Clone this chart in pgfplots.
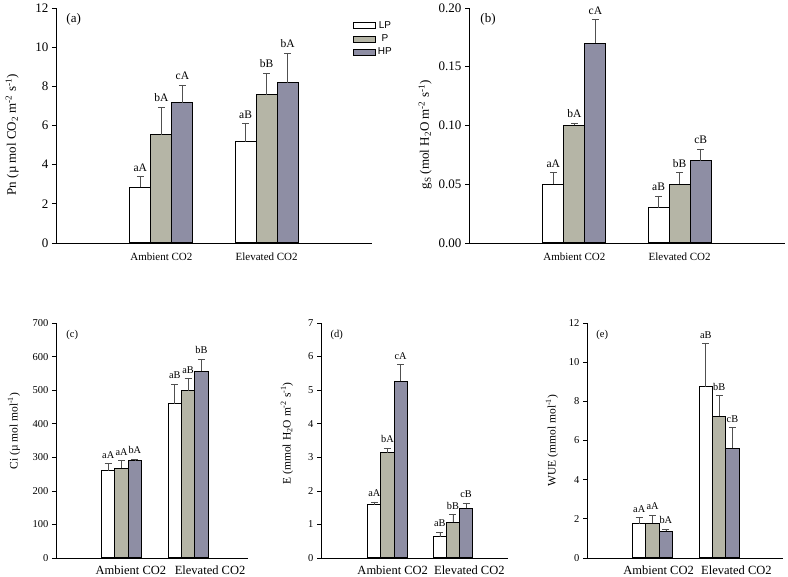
\documentclass[border=0pt]{standalone}
\usepackage{pgfplots}
\pgfplotsset{compat=1.18}
\usepackage{pgfplotstable}
\usepackage{fontspec}
\setmainfont{Liberation Serif}
\newfontfamily\arial{Liberation Sans}

\definecolor{pfill}{RGB}{181,181,166}
\definecolor{hpfill}{RGB}{142,142,164}
\definecolor{errcol}{RGB}{80,80,80}

% x: 0 = Ambient CO2, 1 = Elevated CO2 ; value, error (+), letters
\pgfplotstableread{
x lp   lpe  lpl p    pe   pl hp   hpe  hpl
0 2.84 0.56 aA  5.52 1.42 bA 7.16 0.91 cA
1 5.18 0.92 aB  7.56 1.11 bB 8.18 1.51 bA
}\dataA
\pgfplotstableread{
x lp    lpe   lpl p     pe    pl hp    hpe   hpl
0 0.050 0.010 aA  0.100 0.002 bA 0.170 0.020 cA
1 0.030 0.010 aB  0.050 0.010 bB 0.070 0.010 cB
}\dataB
\pgfplotstableread{
x lp  lpe lpl p   pe  pl hp  hpe hpl
0 260 21  aA  268 23  aA 290 4   bA
1 460 58  aB  498 36  aB 557 35  bB
}\dataC
\pgfplotstableread{
x lp   lpe  lpl p    pe   pl hp   hpe  hpl
0 1.58 0.09 aA  3.13 0.14 bA 5.26 0.50 cA
1 0.63 0.14 aB  1.06 0.23 bB 1.48 0.16 cB
}\dataD
\pgfplotstableread{
x lp   lpe  lpl p    pe   pl hp   hpe  hpl
0 1.75 0.32 aA  1.78 0.41 aA 1.37 0.11 bA
1 8.74 2.21 aB  7.25 1.05 bB 5.60 1.07 cB
}\dataE

\pgfplotsset{
  panel/.style={
    scale only axis, anchor=south west, height=235pt,
    axis x line*=bottom, axis y line*=left,
    axis line style={-, line width=0.7pt},
    tick align=outside, major tick length=4pt,
    ytick style={line width=0.7pt, black},
    xtick={0,1}, xticklabels={Ambient CO2, Elevated CO2},
    major x tick style={draw=none},
    ymin=0, clip=false,
    /pgf/number format/assume math mode=true,
  },
  top/.style={panel, width=316pt, xmin=-1, xmax=2,
    yticklabel style={font=\fontsize{13}{14}\selectfont},
    xticklabel style={font=\fontsize{11}{12}\selectfont, yshift=-2pt},
    label style={font=\fontsize{13}{15}\selectfont},
    nodes near coords style={font=\fontsize{11.5}{13}\selectfont}},
  bottom/.style={panel,
    yticklabel style={font=\fontsize{10.5}{12}\selectfont},
    xticklabel style={font=\fontsize{12.5}{14}\selectfont},
    label style={font=\fontsize{11.5}{13}\selectfont},
    nodes near coords style={font=\fontsize{10.3}{12}\selectfont}},
  bar/.style={ybar, bar width=0.2, bar shift=0pt, draw=black, line width=1pt,
    error bars/y dir=plus, error bars/y explicit,
    error bars/error bar style={errcol, line width=0.7pt},
    error bars/error mark options={errcol, rotate=90, mark size=3.5pt, line width=0.7pt}},
  letters/.style={forget plot, draw=none, mark=none, nodes near coords,
    point meta=explicit symbolic,
    nodes near coords style={inner sep=0pt, anchor=south, yshift=5pt}},
}

\newcommand\bars[1]{%
  \addplot[bar, fill=white] table[x expr=\thisrow{x}-0.2, y=lp, y error=lpe] {#1};
  \addplot[bar, fill=pfill] table[x=x, y=p, y error=pe] {#1};
  \addplot[bar, fill=hpfill] table[x expr=\thisrow{x}+0.2, y=hp, y error=hpe] {#1};
  \addplot[letters] table[x expr=\thisrow{x}-0.2, y expr=\thisrow{lp}+\thisrow{lpe}, meta=lpl] {#1};
  \addplot[letters] table[x=x, y expr=\thisrow{p}+\thisrow{pe}, meta=pl] {#1};
  \addplot[letters] table[x expr=\thisrow{x}+0.2, y expr=\thisrow{hp}+\thisrow{hpe}, meta=hpl] {#1};
}

\begin{document}
\begin{tikzpicture}
\path[use as bounding box] (0,0) rectangle (788pt,577pt);

% (a)
\begin{axis}[top, at={(56pt,334pt)},
    ymax=12, ytick={0,2,...,12},
    ylabel={Pn (µ mol CO\textsubscript{2} m\textsuperscript{-2} s\textsuperscript{-1})},
    ylabel style={at={(axis description cs:-0.139,0.46)}, anchor=center},
    legend entries={LP,P,HP},
    legend style={draw=none, fill=none, font=\arial\fontsize{10}{12}\selectfont,
      at={(rel axis cs:0.93,0.96)}, anchor=north west, row sep=0.8pt},
    legend image code/.code={\draw[#1, line width=0.9pt] (0pt,-3pt) rectangle (22pt,3pt);},
]
\bars{\dataA}
\node[anchor=north west, font=\fontsize{13}{14}\selectfont] at (rel axis cs:0.022,0.99) {(a)};
\end{axis}

% (b)
\begin{axis}[top, at={(469pt,334pt)},
    ymax=0.2, ytick={0,0.05,...,0.2},
    yticklabel style={/pgf/number format/.cd, fixed, fixed zerofill, precision=2},
    scaled y ticks=false,
    ylabel={g\textsubscript{S} (mol H\textsubscript{2}O m\textsuperscript{-2} s\textsuperscript{-1})},
    ylabel style={at={(axis description cs:-0.139,0.46)}, anchor=center},
]
\bars{\dataB}
\node[anchor=north west, font=\fontsize{13}{14}\selectfont] at (rel axis cs:0.025,0.99) {(b)};
\end{axis}

% (c)
\begin{axis}[bottom, at={(56pt,19pt)}, width=192pt,
    xmin=-0.985, xmax=1.9, xtick={0.14,1.33},
    ymax=700, ytick={0,100,...,700},
    ylabel={Ci (µ mol mol\textsuperscript{-1})},
    ylabel style={at={(axis description cs:-0.219,0.54)}, anchor=center},
]
\bars{\dataC}
\node[anchor=north west, font=\fontsize{10.5}{12}\selectfont] at (rel axis cs:0.036,0.985) {(c)};
\end{axis}

% (d)
\begin{axis}[bottom, at={(321pt,19pt)}, width=187pt,
    xmin=-1.015, xmax=1.84, xtick={0.08,1.25},
    ymax=7, ytick={0,1,...,7},
    ylabel={E (mmol H\textsubscript{2}O m\textsuperscript{-2} s\textsuperscript{-1})},
    ylabel style={at={(axis description cs:-0.182,0.53)}, anchor=center},
]
\bars{\dataD}
\node[anchor=north west, font=\fontsize{10.5}{12}\selectfont] at (rel axis cs:0.032,0.985) {(d)};
\end{axis}

% (e)
\begin{axis}[bottom, at={(587pt,19pt)}, width=196pt,
    xmin=-0.985, xmax=1.96, xtick={0.09,1.26},
    ymax=12, ytick={0,2,...,12},
    ylabel={WUE (mmol mol\textsuperscript{-1})},
    ylabel style={at={(axis description cs:-0.179,0.5)}, anchor=center},
]
\bars{\dataE}
\node[anchor=north west, font=\fontsize{10.5}{12}\selectfont] at (rel axis cs:0.03,0.985) {(e)};
\end{axis}
\end{tikzpicture}
\end{document}
